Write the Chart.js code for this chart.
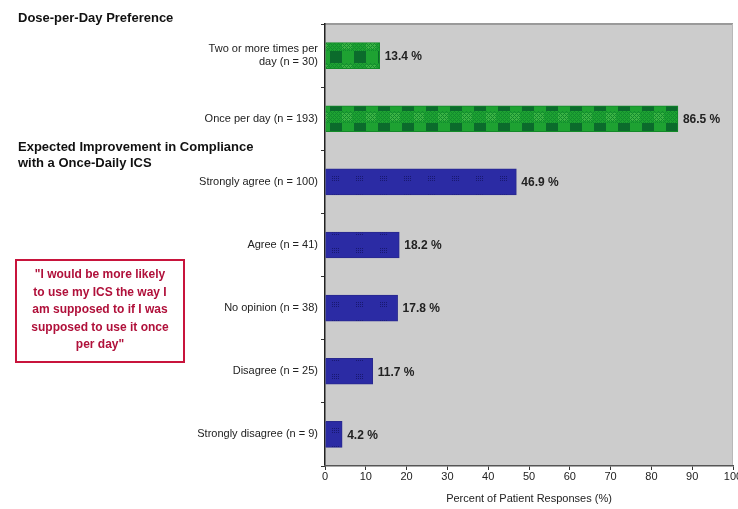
<!DOCTYPE html>
<html>
<head>
<meta charset="utf-8">
<script src="https://cdn.jsdelivr.net/npm/chart.js@4/dist/chart.umd.min.js"></script>
<style>
    body { margin: 0; background: #fff; }
    #wrap { position: relative; width: 738px; height: 509px; font-family: Arial, "Liberation Sans", sans-serif; overflow: hidden; }
    canvas { position: absolute; left: 0; top: 0; }
    .head { position: absolute; left: 18px; font-weight: bold; font-size: 13px; color: #111; line-height: 16px; }
    #quote {
        position: absolute; left: 15px; top: 259px; width: 170px; height: 104px;
        border: 2px solid #c8143c; color: #b0103a; font-weight: bold; font-size: 12px;
        line-height: 17.5px; text-align: center; padding-top: 5px; box-sizing: border-box; white-space: nowrap;
    }
</style>
</head>
<body>
<div id="wrap">
    <canvas id="grafico" width="738" height="509"></canvas>
    <div class="head" style="top:10px">Dose-per-Day Preference</div>
    <div class="head" style="top:139px">Expected Improvement in Compliance<br>with a Once-Daily ICS</div>
    <div id="quote">"I would be more likely<br>to use my ICS the way I<br>am supposed to if I was<br>supposed to use it once<br>per day"</div>
</div>
<script>
// datos
const categorias = [
    ["Two or more times per", "day (n = 30)"],
    "Once per day (n = 193)",
    "Strongly agree (n = 100)",
    "Agree (n = 41)",
    "No opinion (n = 38)",
    "Disagree (n = 25)",
    "Strongly disagree (n = 9)"
];
const porcentajes = [13.4, 86.5, 46.9, 18.2, 17.8, 11.7, 4.2];
const grupo = ["dosis", "dosis", "mejora", "mejora", "mejora", "mejora", "mejora"];
const ticksX = [0, 10, 20, 30, 40, 50, 60, 70, 80, 90, 100];

function patronVerde() {
    let c = document.createElement('canvas');
    c.width = 24; c.height = 24;
    let g = c.getContext('2d');
    g.fillStyle = '#1ea232';
    g.fillRect(0, 0, 24, 24);
    // cuadros oscuros
    g.fillStyle = '#0b6b2c';
    g.fillRect(0, 0, 12, 12);
    // banda con trama
    g.fillStyle = '#3cb444';
    g.fillRect(12, 14, 10, 8);
    g.fillStyle = '#118a2e';
    for (let y = 12; y < 24; y++) {
        for (let x = 0; x < 24; x++) {
            if ((x + y) % 4 == 0 || (x - y + 48) % 4 == 0) g.fillRect(x, y, 1, 1);
        }
    }
    let p = g.createPattern(c, 'repeat');
    p.setTransform(new DOMMatrix([1, 0, 0, 1, 330, 51]));
    return p;
}

function patronAzul() {
    let c = document.createElement('canvas');
    c.width = 24; c.height = 18;
    let g = c.getContext('2d');
    g.fillStyle = '#2b2ba4';
    g.fillRect(0, 0, 24, 18);
    g.fillStyle = '#181870';
    for (let i = 0; i < 4; i++) {
        for (let j = 0; j < 3; j++) {
            g.fillRect(9 + i * 2, 7 + j * 2, 1, 1);
        }
    }
    let p = g.createPattern(c, 'repeat');
    p.setTransform(new DOMMatrix([1, 0, 0, 1, 323, 169]));
    return p;
}

const verde = patronVerde();
const azul = patronAzul();

const fondoPlot = {
    id: 'fondoPlot',
    beforeDraw(chart) {
        const { ctx, chartArea: a } = chart;
        ctx.save();
        ctx.fillStyle = '#cccccc';
        ctx.fillRect(a.left, a.top, a.right - a.left, a.bottom - a.top);
        ctx.fillStyle = '#9a9a9a';
        ctx.fillRect(a.left, a.top - 1, a.right - a.left, 2);
        ctx.fillStyle = '#b8b8b8';
        ctx.fillRect(a.right - 1, a.top, 1, a.bottom - a.top);
        ctx.restore();
    }
};

const etiquetas = {
    id: 'etiquetas',
    afterDatasetsDraw(chart) {
        const ctx = chart.ctx;
        const meta = chart.getDatasetMeta(0);
        ctx.save();
        ctx.font = 'bold 12px Arial, "Liberation Sans", sans-serif';
        ctx.fillStyle = '#222';
        ctx.textBaseline = 'middle';
        meta.data.forEach((bar, i) => {
            ctx.fillText(porcentajes[i].toFixed(1) + ' %', bar.x + 5, bar.y + 1);
        });
        ctx.restore();
    }
};

new Chart(document.getElementById('grafico'), {
    type: 'bar',
    data: {
        labels: categorias,
        datasets: [{
            data: porcentajes,
            backgroundColor: grupo.map(g => g == 'dosis' ? verde : azul),
            borderColor: grupo.map(g => g == 'dosis' ? '#138a28' : '#28288e'),
            borderWidth: 1,
            borderSkipped: 'left',
            barThickness: 26
        }]
    },
    options: {
        indexAxis: 'y',
        responsive: false,
        animation: false,
        layout: { padding: { top: 24, right: 5, left: 0, bottom: 0 } },
        plugins: {
            legend: { display: false },
            tooltip: { enabled: false }
        },
        scales: {
            y: {
                afterFit(scale) { scale.width = 325; },
                grid: { display: true, drawOnChartArea: false, offset: true, tickLength: 4, color: '#333' },
                border: { color: '#222', width: 1.5 },
                ticks: {
                    color: '#222',
                    padding: 3,
                    font: { size: 11, family: 'Arial, "Liberation Sans", sans-serif' }
                }
            },
            x: {
                min: 0,
                max: 100,
                afterFit(scale) { scale.height = 43; scale.paddingRight = 0; },
                afterBuildTicks(scale) { scale.ticks = ticksX.map(v => ({ value: v })); },
                grid: { display: true, drawOnChartArea: false, tickLength: 4, color: '#333' },
                border: { color: '#555', width: 1.5 },
                ticks: {
                    color: '#222',
                    padding: 0,
                    font: { size: 11, family: 'Arial, "Liberation Sans", sans-serif' }
                },
                title: {
                    display: true,
                    text: 'Percent of Patient Responses (%)',
                    color: '#222',
                    padding: { top: 0, bottom: 3 },
                    font: { size: 11, family: 'Arial, "Liberation Sans", sans-serif' }
                }
            }
        }
    },
    plugins: [fondoPlot, etiquetas]
});
</script>
</body>
</html>
